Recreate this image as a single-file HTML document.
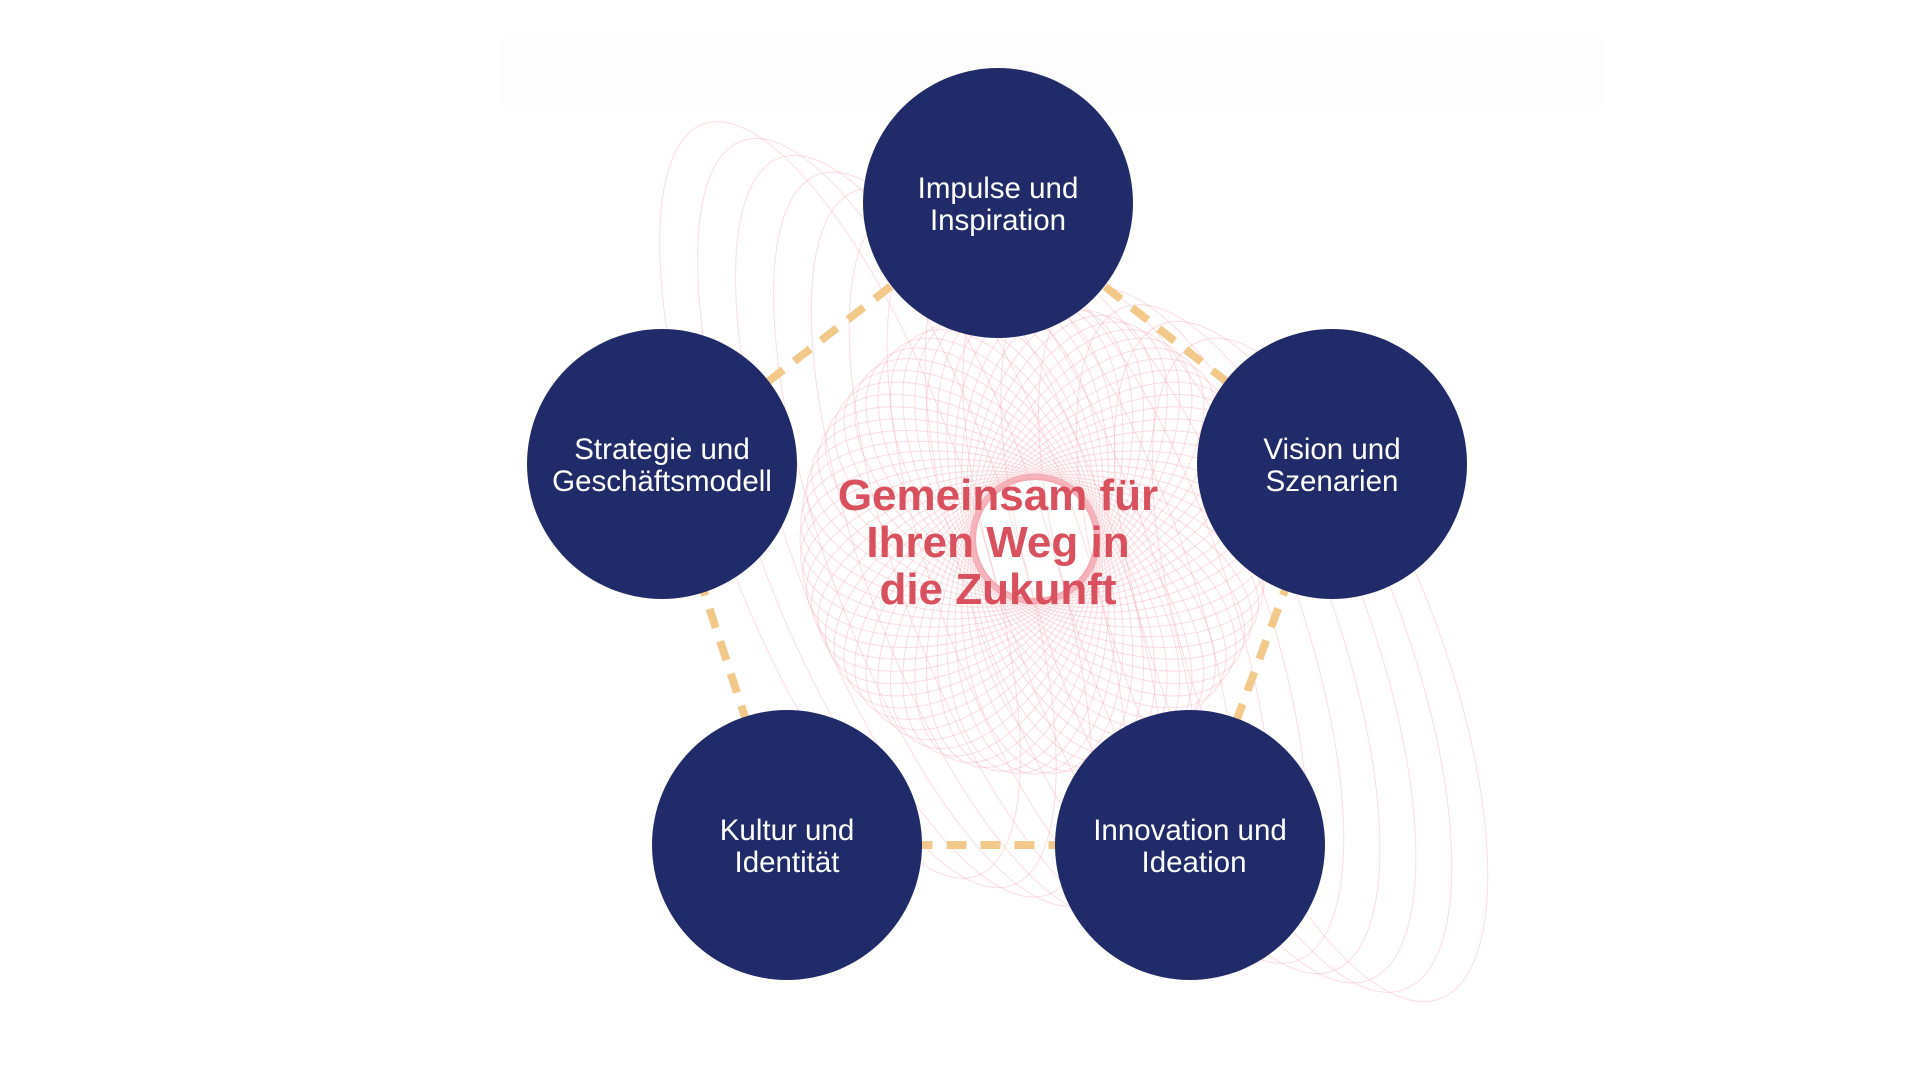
<!DOCTYPE html>
<html><head><meta charset="utf-8"><style>
html,body{margin:0;padding:0;background:#fff;width:1920px;height:1080px;overflow:hidden}
svg{position:absolute;left:0;top:0}
</style></head><body>
<svg id="s" width="1920" height="1080" viewBox="0 0 1920 1080" xmlns="http://www.w3.org/2000/svg">
<rect x="500" y="38" width="1105" height="68" fill="#fdfdfd"/>
<g id="spiro" fill="none" stroke="#f4aab5" stroke-opacity="0.4" stroke-width="1"></g>
<polygon points="998,203 1332,464 1190,845 787,845 662,464" fill="none" stroke="#f2c98a" stroke-width="8" stroke-dasharray="20 14"/>
<g fill="#222b69">
<circle cx="998" cy="203" r="135"/>
<circle cx="1332" cy="464" r="135"/>
<circle cx="1190" cy="845" r="135"/>
<circle cx="787" cy="845" r="135"/>
<circle cx="662" cy="464" r="135"/>
</g>
<g fill="#fff" font-family="Liberation Sans, sans-serif" font-size="29.5" text-anchor="middle">
<text x="998" y="198">Impulse und</text><text x="998" y="230">Inspiration</text>
<text x="1332" y="459">Vision und</text><text x="1332" y="491">Szenarien</text>
<text x="1190" y="840">Innovation und</text><text x="1194" y="872">Ideation</text>
<text x="787" y="840">Kultur und</text><text x="787" y="872">Identität</text>
<text x="662" y="459">Strategie und</text><text x="662" y="491">Geschäftsmodell</text>
</g>
<g fill="#d9505f" font-family="Liberation Sans, sans-serif" font-size="44" font-weight="bold" text-anchor="middle">
<text x="998" y="510">Gemeinsam für</text>
<text x="998" y="557">Ihren Weg in</text>
<text x="998" y="604">die Zukunft</text>
</g>
</svg>
<script>
var g=document.getElementById('spiro'),h='';
var cx=1035,cy=539;
for(var i=0;i<72;i++){var a=i*5;var r=a*Math.PI/180;
var x=cx+85*Math.cos(r),y=cy+85*Math.sin(r);
h+='<ellipse cx="'+x.toFixed(1)+'" cy="'+y.toFixed(1)+'" rx="150" ry="80" transform="rotate('+a+' '+x.toFixed(1)+' '+y.toFixed(1)+')"/>';}
for(var j=0;j<14;j++){var t=j/13;var x=840+t*480,y=500+t*170;
h+='<ellipse cx="'+x.toFixed(1)+'" cy="'+y.toFixed(1)+'" rx="125" ry="'+(400-t*50).toFixed(0)+'" transform="rotate(-20 '+x.toFixed(1)+' '+y.toFixed(1)+')"/>';}
g.innerHTML=h;
</script>
</body></html>
